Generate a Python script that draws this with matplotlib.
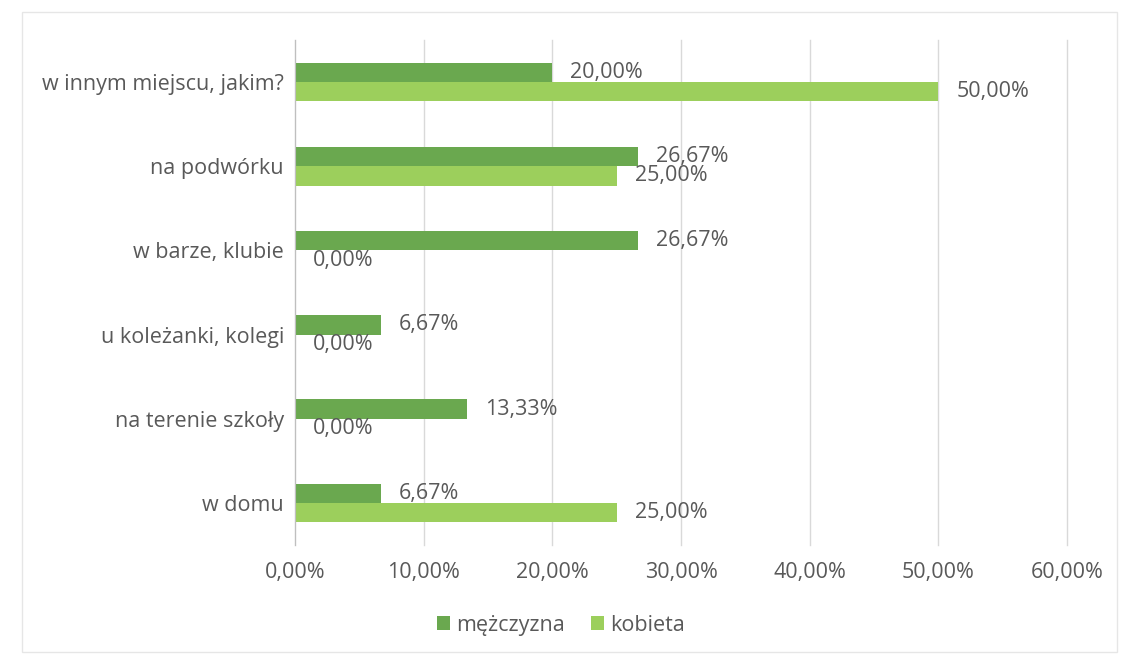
import numpy as np
import matplotlib.pyplot as plt
from matplotlib.patches import Rectangle

# data (percent)
categories = ["w domu", "na terenie szkoły", "u koleżanki, kolegi",
              "w barze, klubie", "na podwórku", "w innym miejscu, jakim?"]
mezczyzna = [6.67, 13.33, 6.67, 26.67, 26.67, 20.00]
kobieta = [25.00, 0.00, 0.00, 0.00, 25.00, 50.00]
series_names = ["mężczyzna", "kobieta"]
xticks = [0, 10, 20, 30, 40, 50, 60]

dark = "#6aa84f"
light = "#9ccf5c"
txt = "#595959"
fs = 15.5

plt.rcParams['font.family'] = ['Open Sans', 'DejaVu Sans']

def pct(v):
    return f"{v:.2f}%".replace(".", ",")

fig = plt.figure(figsize=(11.22, 6.55), dpi=100)
ax = fig.add_axes([295/1122, 1 - 545/655, (1067-295)/1122, (545-40)/655])

y = np.arange(len(categories))
h = 0.23
b1 = ax.barh(y + h/2, mezczyzna, height=h, color=dark, label=series_names[0], zorder=2)
b2 = ax.barh(y - h/2, kobieta, height=h, color=light, label=series_names[1], zorder=2)

for bars, vals in ((b1, mezczyzna), (b2, kobieta)):
    for rect, v in zip(bars, vals):
        ax.annotate(pct(v), (rect.get_width(), rect.get_y() + rect.get_height()/2),
                    xytext=(13, 0), textcoords="offset points",
                    va="center", ha="left", fontsize=fs, color=txt)

ax.set_xlim(0, 60)
ax.set_ylim(-0.5, len(categories) - 0.5)
ax.set_xticks(xticks)
ax.set_xticklabels([pct(v) for v in xticks], fontsize=fs, color=txt)
ax.set_yticks(y)
ax.set_yticklabels(categories, fontsize=fs, color=txt)
ax.tick_params(length=0, pad=8)
ax.tick_params(axis="x", pad=12)
ax.grid(axis="x", color="#d9d9d9", linewidth=1, zorder=0)
for gl in ax.get_xgridlines():
    gl.set_clip_on(False)
for s in ["top", "right", "bottom"]:
    ax.spines[s].set_visible(False)
ax.spines["left"].set_color("#bfbfbf")

fig.legend(loc="lower center", bbox_to_anchor=(0.5, 0.0), ncol=2, frameon=False,
           fontsize=fs, labelcolor=txt, handlelength=0.6, handleheight=0.6,
           handletextpad=0.3, columnspacing=1.2)

fig.patches.append(Rectangle((22/1122, 0.005), (1117-22)/1122, 1 - 12/655 - 0.005,
                             transform=fig.transFigure, fill=False,
                             edgecolor="#e6e6e6", linewidth=1))

fig.savefig("out.png", dpi=100)
